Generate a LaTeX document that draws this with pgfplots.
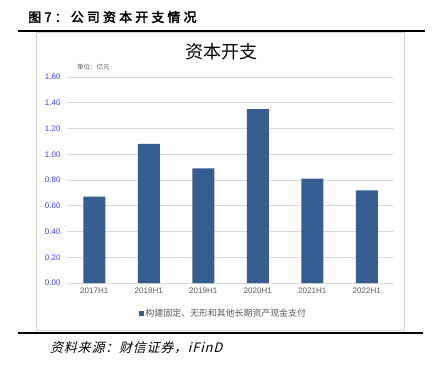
\documentclass[border=0pt]{standalone}
\usepackage{fontspec}
\usepackage{pgfplots}
\pgfplotsset{compat=1.18}
\setmainfont{Liberation Sans}
\newfontfamily\cjk{Noto Sans CJK SC}
\newfontfamily\cjkb[FakeBold=2.5]{Noto Sans CJK SC}
\newfontfamily\cjkit[FakeSlant=0.25]{Noto Sans CJK SC}
\definecolor{barblue}{HTML}{355D8F}
\definecolor{tickblue}{HTML}{3F3FFF}
\definecolor{gridgray}{HTML}{D9D9D9}
\definecolor{labgray}{HTML}{595959}
\begin{document}
\begin{tikzpicture}[x=1pt,y=1pt]
\path[use as bounding box] (0,0) rectangle (434,365);
\draw[gray!35, line width=0.8pt] (36,333) rectangle (404,35);
\draw[black, line width=1.1pt] (18,334) -- (425,334);
\draw[black, line width=1.1pt] (18,32) -- (423,32);
\node[anchor=west, inner sep=0] at (28,348) {\cjkb\addfontfeatures{LetterSpace=24}\fontsize{13}{13}\selectfont 图7：公司资本开支情况};
\node[inner sep=0] at (221,313) {\cjk\fontsize{18}{18}\selectfont 资本开支};
\node[anchor=west, inner sep=0] at (77,298) {\cjk\fontsize{6.5}{7}\selectfont\color{labgray} 单位：亿元};
\node[anchor=west, inner sep=0] at (50,17) {\cjkit\addfontfeatures{LetterSpace=6}\fontsize{13}{13}\selectfont 资料来源：财信证券，iFinD};
\begin{axis}[
  at={(67pt,82pt)}, anchor=south west,
  scale only axis, width=327pt, height=206pt,
  xmin=-0.5, xmax=5.5, ymin=0, ymax=1.6,
  ytick={0,0.2,...,1.6},
  yticklabel style={font=\fontsize{8}{8}\selectfont, text=tickblue, /pgf/number format/fixed, /pgf/number format/fixed zerofill, /pgf/number format/precision=2, xshift=-3pt},
  /pgf/number format/assume math mode=true,
  xtick=data,
  xticklabels={2017H1,2018H1,2019H1,2020H1,2021H1,2022H1},
  xticklabel style={font=\fontsize{8}{8}\selectfont, text=labgray, yshift=-1pt},
  axis line style={draw=none},
  major tick length=0pt,
  ymajorgrids, grid style={gridgray, line width=0.8pt},
  legend style={at={(0.478,-0.15)}, anchor=center, draw=none, font=\cjk\fontsize{8.9}{10}\selectfont\color{labgray}, inner sep=1pt},
  legend image code/.code={\fill[#1] (0pt,-2.5pt) rectangle (5pt,2.5pt);},
]
\addplot[ybar, bar width=22pt, fill=barblue, draw=none] coordinates {(0,0.67) (1,1.08) (2,0.89) (3,1.35) (4,0.81) (5,0.72)};
\addlegendentry{构建固定、无形和其他长期资产现金支付}
\end{axis}
\end{tikzpicture}
\end{document}
